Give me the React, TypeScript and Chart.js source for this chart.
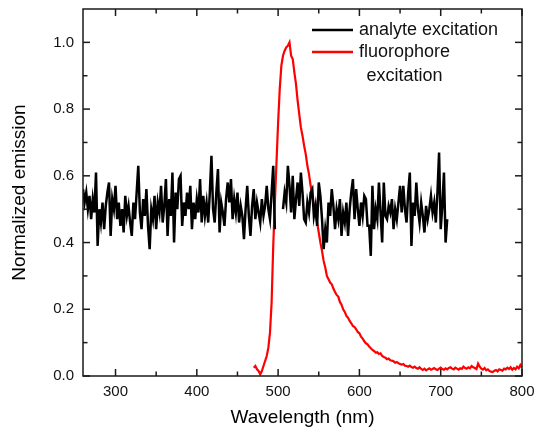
import React, { useEffect, useRef } from "react";
import { Chart, registerables } from "chart.js";

Chart.register(...registerables);

// Wavelength grid (nm)
const analyteStart = 260;
const analyteStep = 2;
// Normalized emission, analyte excitation (260..708 nm, every 2 nm; null = gap)
const analyteValues: (number | null)[] = [
  0.56, 0.52, 0.55, 0.50, 0.54, 0.47, 0.53, 0.49, 0.61, 0.39,
  0.50, 0.46, 0.52, 0.44, 0.51, 0.55, 0.58, 0.42, 0.53, 0.50,
  0.57, 0.47, 0.52, 0.45, 0.50, 0.43, 0.54, 0.48, 0.51, 0.46,
  0.42, 0.52, 0.47, 0.55, 0.63, 0.49, 0.44, 0.53, 0.48, 0.56,
  0.45, 0.38, 0.50, 0.47, 0.54, 0.44, 0.52, 0.49, 0.57, 0.46,
  0.51, 0.59, 0.42, 0.53, 0.48, 0.61, 0.40, 0.55, 0.50, 0.59,
  0.60, 0.45, 0.52, 0.48, 0.55, 0.50, 0.57, 0.44, 0.52, 0.47,
  0.53, 0.49, 0.59, 0.46, 0.54, 0.48, 0.52, 0.46, 0.55, 0.66,
  0.50, 0.46, 0.55, 0.62, 0.43, 0.52, 0.49, 0.45, 0.53, 0.58,
  0.52, 0.59, 0.47, 0.53, 0.49, 0.55, 0.46, 0.51, 0.48, 0.41,
  0.50, 0.57, 0.48, 0.42, 0.51, 0.56, 0.47, 0.52, 0.49, 0.46,
  0.53, 0.48, 0.51, 0.57, 0.50, 0.47, 0.55, 0.63, 0.44, null,
  null, null, null, 0.50, 0.55, 0.52, 0.63, 0.57, 0.49, 0.60,
  0.47, 0.53, 0.58, 0.51, 0.61, 0.55, 0.47, 0.46, 0.52, 0.49,
  0.55, 0.56, 0.48, 0.51, 0.45, 0.58, 0.54, 0.47, 0.38, 0.44,
  0.40, 0.52, 0.48, 0.56, 0.51, 0.44, 0.50, 0.47, 0.53, 0.42,
  0.49, 0.46, 0.52, 0.42, 0.50, 0.55, 0.59, 0.47, 0.56, 0.50,
  0.45, 0.52, 0.48, 0.54, 0.53, 0.45, 0.45, 0.36, 0.57, 0.44,
  0.50, 0.47, 0.58, 0.49, 0.40, 0.58, 0.48, 0.47, 0.51, 0.49,
  0.53, 0.44, 0.50, 0.47, 0.52, 0.57, 0.49, 0.57, 0.50, 0.46,
  0.55, 0.61, 0.39, 0.52, 0.48, 0.58, 0.50, 0.46, 0.52, 0.48,
  0.43, 0.51, 0.47, 0.50, 0.54, 0.49, 0.52, 0.46, 0.55, 0.67,
  0.44, 0.51, 0.61, 0.40, 0.47,
];

const fluoroStart = 470;
const fluoroStep = 2;
// Normalized emission, fluorophore excitation (470..800 nm, every 2 nm)
const fluoroValues: number[] = [
  0.025, 0.030, 0.020, 0.015, 0.005, 0.015, 0.030, 0.045, 0.060, 0.085,
  0.130, 0.220, 0.390, 0.520, 0.640, 0.760, 0.860, 0.930, 0.960, 0.975,
  0.985, 0.990, 1.000, 0.960, 0.950, 0.910, 0.875, 0.825, 0.785, 0.745,
  0.720, 0.690, 0.665, 0.630, 0.605, 0.570, 0.545, 0.510, 0.485, 0.460,
  0.430, 0.400, 0.375, 0.345, 0.325, 0.300, 0.290, 0.280, 0.275, 0.262,
  0.252, 0.243, 0.238, 0.222, 0.214, 0.200, 0.192, 0.180, 0.175, 0.165,
  0.158, 0.150, 0.147, 0.140, 0.132, 0.128, 0.118, 0.112, 0.104, 0.098,
  0.095, 0.088, 0.083, 0.078, 0.075, 0.070, 0.071, 0.066, 0.068, 0.060,
  0.057, 0.055, 0.050, 0.052, 0.047, 0.046, 0.044, 0.040, 0.042, 0.038,
  0.036, 0.034, 0.036, 0.031, 0.030, 0.028, 0.031, 0.027, 0.025, 0.028,
  0.024, 0.022, 0.026, 0.021, 0.018, 0.022, 0.017, 0.020, 0.023, 0.019,
  0.021, 0.024, 0.020, 0.018, 0.022, 0.025, 0.021, 0.019, 0.023, 0.020,
  0.024, 0.026, 0.022, 0.020, 0.025, 0.022, 0.019, 0.023, 0.021, 0.028,
  0.024, 0.022, 0.026, 0.023, 0.030, 0.026, 0.024, 0.021, 0.037, 0.028,
  0.022, 0.019, 0.024, 0.017, 0.020, 0.015, 0.013, 0.012, 0.016, 0.018,
  0.014, 0.020, 0.018, 0.016, 0.022, 0.020, 0.025, 0.021, 0.026, 0.019,
  0.024, 0.020, 0.028, 0.023, 0.033, 0.025,
];

const xTitle = "Wavelength (nm)";
const yTitle = "Normalized emission";
const seriesNames: (string | string[])[] = ["analyte excitation", ["fluorophore", "excitation"]];
const xMin = 260, xMax = 800, xStep = 100;
const yMin = 0, yMax = 1.1, yStep = 0.2;

const FONT = "'Liberation Sans', Arial, Helvetica, sans-serif";

const framePlugin = {
  id: "frameTicks",
  afterDraw(chart: any) {
    const { ctx, chartArea: a, scales } = chart;
    const xs = scales.x, ys = scales.y;
    ctx.save();
    ctx.strokeStyle = "#1a1a1a";
    ctx.lineWidth = 1.5;
    ctx.strokeRect(a.left, a.top, a.right - a.left, a.bottom - a.top);
    const line = (x1: number, y1: number, x2: number, y2: number) => {
      ctx.beginPath();
      ctx.moveTo(x1, y1);
      ctx.lineTo(x2, y2);
      ctx.stroke();
    };
    const major = 7, minor = 4.5;
    const xt = xs.ticks.map((t: any) => t.value);
    const xMinor: number[] = [];
    for (let i = 0; i < xt.length - 1; i++) xMinor.push((xt[i] + xt[i + 1]) / 2);
    xt.forEach((v: number) => {
      const p = xs.getPixelForValue(v);
      line(p, a.bottom, p, a.bottom - major);
      line(p, a.top, p, a.top + major);
    });
    xMinor.forEach((v: number) => {
      const p = xs.getPixelForValue(v);
      line(p, a.bottom, p, a.bottom - minor);
      line(p, a.top, p, a.top + minor);
    });
    const yt = ys.ticks.map((t: any) => t.value);
    const yMinor: number[] = [];
    for (let i = 0; i < yt.length - 1; i++) yMinor.push((yt[i] + yt[i + 1]) / 2);
    yt.forEach((v: number) => {
      const p = ys.getPixelForValue(v);
      line(a.left, p, a.left + major, p);
      line(a.right, p, a.right - major, p);
    });
    yMinor.forEach((v: number) => {
      const p = ys.getPixelForValue(v);
      line(a.left, p, a.left + minor, p);
      line(a.right, p, a.right - minor, p);
    });
    ctx.restore();
  },
};

const legendPlugin = {
  id: "customLegend",
  afterDraw(chart: any) {
    const { ctx, chartArea: a } = chart;
    const ds = chart.data.datasets;
    const x0 = a.left + 229, x1 = a.left + 270, tx = a.left + 276;
    const rows = [a.top + 21, a.top + 43];
    ctx.save();
    ctx.font = `18px ${FONT}`;
    ctx.fillStyle = "#111";
    ctx.textBaseline = "middle";
    ds.forEach((d: any, i: number) => {
      const y = rows[i];
      ctx.strokeStyle = d.borderColor;
      ctx.lineWidth = 2.5;
      ctx.beginPath();
      ctx.moveTo(x0, y);
      ctx.lineTo(x1, y);
      ctx.stroke();
      const lab = seriesNames[i];
      if (Array.isArray(lab)) {
        const w0 = ctx.measureText(lab[0]).width;
        const cx = tx + w0 / 2;
        ctx.textAlign = "center";
        lab.forEach((s: string, k: number) => ctx.fillText(s, cx, y + k * 24));
      } else {
        ctx.textAlign = "left";
        ctx.fillText(lab, tx, y);
      }
    });
    ctx.restore();
  },
};

export default function App() {
  const ref = useRef<HTMLCanvasElement | null>(null);
  useEffect(() => {
    if (!ref.current) return;
    const analyte = analyteValues.map((v, i) => ({ x: analyteStart + i * analyteStep, y: v }));
    const fluoro = fluoroValues.map((v, i) => ({ x: fluoroStart + i * fluoroStep, y: v }));
    const chart = new Chart(ref.current, {
      type: "line",
      data: {
        datasets: [
          {
            label: "analyte excitation",
            data: analyte as any,
            borderColor: "#000000",
            borderWidth: 2.5,
            pointRadius: 0,
            spanGaps: false,
            tension: 0,
          },
          {
            label: "fluorophore excitation",
            data: fluoro as any,
            borderColor: "#ff0000",
            borderWidth: 2.2,
            pointRadius: 0,
            tension: 0,
          },
        ],
      },
      options: {
        animation: false,
        responsive: false,
        parsing: false as any,
        layout: { padding: { top: 9, right: 16, left: 0, bottom: 0 } },
        plugins: { legend: { display: false }, tooltip: { enabled: false } },
        scales: {
          x: {
            type: "linear",
            min: xMin,
            max: xMax,
            grid: { display: false, drawTicks: false },
            border: { display: false },
            ticks: {
              stepSize: xStep,
              includeBounds: false,
              padding: 7,
              color: "#111",
              font: { family: FONT, size: 15 },
              maxRotation: 0,
            },
            title: {
              display: true,
              text: xTitle,
              color: "#000",
              font: { family: FONT, size: 19 },
              padding: { top: 0, bottom: 7 },
            },
            afterFit: (s: any) => {
              s.height = 60;
              s.paddingLeft = 0;
              s.paddingRight = 0;
            },
          },
          y: {
            type: "linear",
            min: yMin,
            max: yMax,
            grid: { display: false, drawTicks: false },
            border: { display: false },
            ticks: {
              stepSize: yStep,
              includeBounds: false,
              padding: 9,
              color: "#111",
              font: { family: FONT, size: 15 },
              callback: (v: any) => Number(v).toFixed(1),
            },
            title: {
              display: true,
              text: yTitle,
              color: "#000",
              font: { family: FONT, size: 19 },
              padding: { top: 8, bottom: 0 },
            },
            afterFit: (s: any) => {
              s.width = 83;
              s.paddingTop = 0;
              s.paddingBottom = 0;
            },
          },
        },
      },
      plugins: [framePlugin, legendPlugin],
    });
    return () => chart.destroy();
  }, []);
  return (
    <div style={{ position: "fixed", left: 0, top: 0, width: 538, height: 436, background: "#fff" }}>
      <canvas ref={ref} width={538} height={436} />
    </div>
  );
}
